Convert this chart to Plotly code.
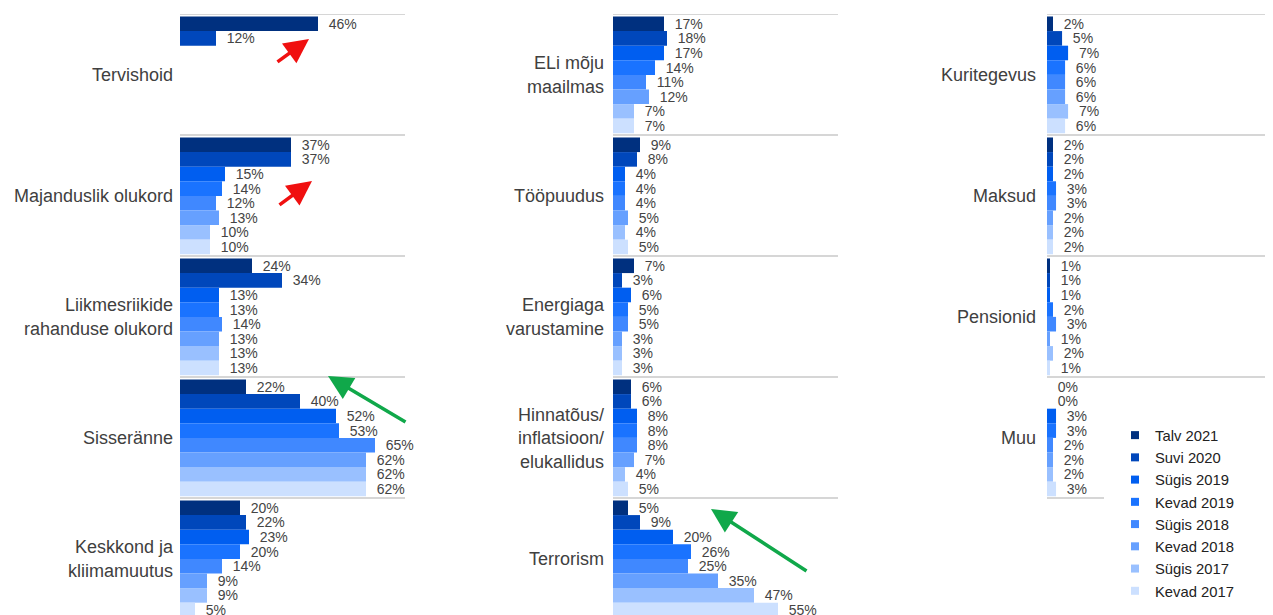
import plotly.graph_objects as go

# ---------------- data ----------------
series = ["Talv 2021", "Suvi 2020", "Sügis 2019", "Kevad 2019",
          "Sügis 2018", "Kevad 2018", "Sügis 2017", "Kevad 2017"]
colors = ["#00307f", "#0047bb", "#005ef0", "#1a73ff",
          "#4088ff", "#66a0ff", "#99c0ff", "#cce0ff"]

col1_labels = ["Tervishoid", "Majanduslik olukord", "Liikmesriikide<br>rahanduse olukord",
               "Sisseränne", "Keskkond ja<br>kliimamuutus"]
col1_values = [
    [46, 12, None, None, None, None, None, None],
    [37, 37, 15, 14, 12, 13, 10, 10],
    [24, 34, 13, 13, 14, 13, 13, 13],
    [22, 40, 52, 53, 65, 62, 62, 62],
    [20, 22, 23, 20, 14, 9, 9, 5],
]

col2_labels = ["ELi mõju<br>maailmas", "Tööpuudus", "Energiaga<br>varustamine",
               "Hinnatõus/<br>inflatsioon/<br>elukallidus", "Terrorism"]
col2_values = [
    [17, 18, 17, 14, 11, 12, 7, 7],
    [9, 8, 4, 4, 4, 5, 4, 5],
    [7, 3, 6, 5, 5, 3, 3, 3],
    [6, 6, 8, 8, 8, 7, 4, 5],
    [5, 9, 20, 26, 25, 35, 47, 55],
]

col3_labels = ["Kuritegevus", "Maksud", "Pensionid", "Muu"]
col3_values = [
    [2, 5, 7, 6, 6, 6, 7, 6],
    [2, 2, 2, 3, 3, 2, 2, 2],
    [1, 1, 1, 2, 3, 1, 2, 1],
    [0, 0, 3, 3, 2, 2, 2, 3],
]

# ---------------- layout constants ----------------
OFF = 8                      # page body margin
W, H = 1273 - OFF, 615 - OFF
TOP = 14 - OFF
PITCH = 121 / 14.6           # panel pitch in bar units
Y_TOP = -0.67
Y_BOT = Y_TOP + (H - TOP) / 14.6
FONT = "Liberation Sans, Arial, sans-serif"


def px(X):
    return (X - OFF) / W


def py(Y):
    return (H - (Y - OFF)) / (H - TOP)


columns = [
    (col1_labels, col1_values, (px(180), px(405)), 6),
    (col2_labels, col2_values, (px(613), px(838)), 8),
    (col3_labels, col3_values, (px(1047), 1.0), 10),
]

fig = go.Figure()
shapes = []

for c, (labels, values, dom, standoff) in enumerate(columns):
    ax_suffix = "" if c == 0 else str(c + 1)
    xref, yref = "x" + ax_suffix, "y" + ax_suffix
    for i, name in enumerate(series):
        ys = [p * PITCH + i for p in range(len(labels))]
        xs = [values[p][i] for p in range(len(labels))]
        txt = ["" if v is None else "\u00a0\u00a0%d%%" % v for v in xs]
        fig.add_trace(go.Bar(
            orientation="h", x=xs, y=ys, width=1.0,
            marker=dict(color=colors[i], line=dict(width=0)),
            text=txt, textposition="outside", textangle=0,
            constraintext="none", cliponaxis=False,
            textfont=dict(family=FONT, size=14, color="#444444"),
            showlegend=False, hoverinfo="skip",
            xaxis=xref, yaxis=yref,
        ))
    for p in range(len(labels)):
        shapes.append(dict(type="line", xref=xref + " domain", yref=yref,
                           x0=0, x1=1, y0=p * PITCH + Y_TOP, y1=p * PITCH + Y_TOP,
                           line=dict(color="#c8c8c8", width=1.5), layer="above"))
    ax_name = "xaxis" + ax_suffix
    ay_name = "yaxis" + ax_suffix
    fig.update_layout(**{
        ax_name: dict(domain=list(dom), range=[0, 75], showgrid=False, zeroline=False,
                      showticklabels=False, showline=False, fixedrange=True,
                      anchor=yref),
        ay_name: dict(domain=[0, 1], range=[Y_BOT, Y_TOP], showgrid=False, zeroline=False,
                      showline=False, ticks="", fixedrange=True, anchor=xref,
                      tickvals=[p * PITCH + 3.5 for p in range(len(labels))],
                      ticktext=labels, ticklabelstandoff=standoff,
                      tickfont=dict(family=FONT, size=18, color="#404040")),
    })

# bottom separator of last panel in column 3 (short)
shapes.append(dict(type="line", xref="paper", yref="y3",
                   x0=px(1047), x1=px(1104),
                   y0=4 * PITCH + Y_TOP, y1=4 * PITCH + Y_TOP,
                   line=dict(color="#c8c8c8", width=1.5)))

# legend entries
for i, name in enumerate(series):
    fig.add_trace(go.Scatter(
        x=[None], y=[None], mode="markers", name=name,
        marker=dict(symbol="square", size=8, color=colors[i]),
        xaxis="x3", yaxis="y3", showlegend=True,
    ))

arrows = [
    (309, 39, -33, 24, "#f01010"),
    (312, 181, -34, 25, "#f01010"),
    (328, 376, 79, 47, "#10a84a"),
    (711, 509, 97, 63, "#10a84a"),
]
annotations = []
for hx, hy, axp, ayp, col in arrows:
    annotations.append(dict(x=px(hx), y=py(hy), xref="paper", yref="paper",
                            ax=axp, ay=ayp, text="", showarrow=True,
                            arrowhead=2, arrowsize=1.4, arrowwidth=3.5,
                            arrowcolor=col, standoff=0))

fig.update_layout(
    width=W, height=H,
    margin=dict(l=0, r=0, t=TOP, b=0, pad=0),
    paper_bgcolor="white", plot_bgcolor="white",
    barmode="overlay",
    shapes=shapes, annotations=annotations,
    showlegend=True,
    legend=dict(x=px(1115), y=py(419), xanchor="left", yanchor="top",
                font=dict(family=FONT, size=14.8, color="#222222"),
                tracegroupgap=0, bgcolor="rgba(0,0,0,0)", borderwidth=0),
    font=dict(family=FONT),
)

fig.write_html("out.html", config={"displayModeBar": False})
